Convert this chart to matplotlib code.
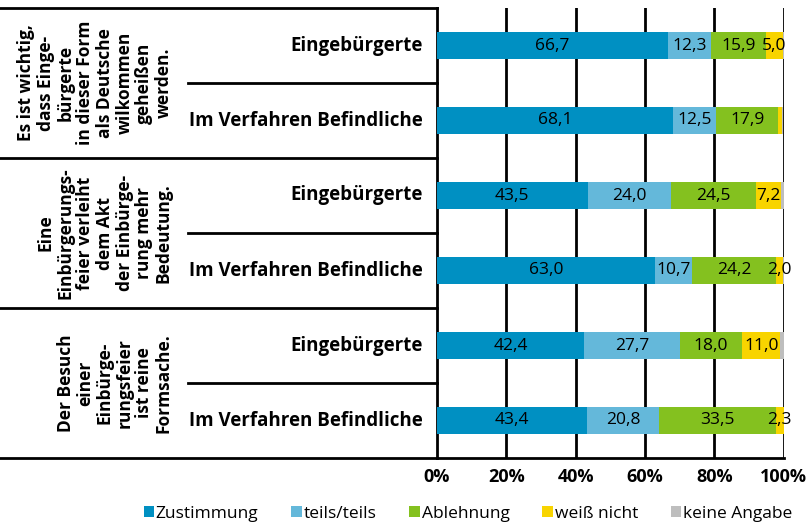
import matplotlib
matplotlib.use('Agg')
import matplotlib.pyplot as plt
from matplotlib.lines import Line2D
from matplotlib.patches import Patch
import numpy as np

plt.rcParams.update({
    'font.family': ['Open Sans', 'DejaVu Sans'],
})

groups = [
    "Es ist wichtig,\ndass Einge-\nbürgerte\nin dieser Form\nals Deutsche\nwilkommen\ngeheißen\nwerden.",
    "Eine\nEinbürgerungs-\nfeier verleiht\ndem Akt\nder Einbürge-\nrung mehr\nBedeutung.",
    "Der Besuch\neiner\nEinbürge-\nrungsfeier\nist reine\nFormsache.",
]
rows = ["Eingebürgerte", "Im Verfahren Befindliche"] * 3

categories = ["Zustimmung", "teils/teils", "Ablehnung", "weiß nicht", "keine Angabe"]
zustimmung = [66.7, 68.1, 43.5, 63.0, 42.4, 43.4]
teils = [12.3, 12.5, 24.0, 10.7, 27.7, 20.8]
ablehnung = [15.9, 17.9, 24.5, 24.2, 18.0, 33.5]
weiss_nicht = [5.0, 1.2, 7.2, 2.0, 11.0, 2.3]
keine_angabe = [0.1, 0.3, 0.8, 0.1, 0.9, 0.0]

colors = ["#0090C2", "#64B8DA", "#84C11F", "#F8D400", "#BEBEBE"]
ticks = [0, 20, 40, 60, 80, 100]
tick_labels = ["0%", "20%", "40%", "60%", "80%", "100%"]

series = [zustimmung, teils, ablehnung, weiss_nicht, keine_angabe]

fig = plt.figure(figsize=(8.10, 5.26), dpi=100)
ax = fig.add_axes([437 / 810, 1 - 458 / 526, (783.5 - 437) / 810, 450 / 526])

y = np.arange(len(rows))
left = np.zeros(len(rows))
for vals, col in zip(series, colors):
    vals = np.array(vals)
    ax.barh(y, vals, left=left, height=0.37, color=col, zorder=3)
    for yi, (l, v) in enumerate(zip(left, vals)):
        if v >= 2.0 and col != colors[-1]:
            ax.text(l + v / 2, yi, f"{v:.1f}".replace('.', ','), ha='center', va='center',
                    fontsize=12.5, color='black', zorder=4)
    left += vals

ax.set_xlim(0, 100)
ax.set_ylim(len(rows) - 0.5, -0.5)
ax.set_xticks(ticks)
ax.set_xticklabels(tick_labels, fontweight='bold', fontsize=13)
ax.set_yticks([])
ax.tick_params(axis='x', length=0, pad=7)
for s in ('top', 'right'):
    ax.spines[s].set_visible(False)
for s in ('left', 'bottom'):
    ax.spines[s].set_linewidth(2.0)
    ax.spines[s].set_color('black')
for t in ticks[1:]:
    ax.axvline(t, color='black', linewidth=2.0, zorder=1)

# table on the left of the bars, in figure pixels
W, H = 810, 526
def fy(py):
    return 1 - py / H

lw = 2.0
row_h = 450 / len(rows)
top = 8
for k in range(len(groups) + 1):
    py = top + k * 2 * row_h
    fig.add_artist(Line2D([0, 437 / W], [fy(py), fy(py)], color='black', lw=lw))
for k in range(len(groups)):
    py = top + (2 * k + 1) * row_h
    fig.add_artist(Line2D([188 / W, 437 / W], [fy(py), fy(py)], color='black', lw=lw))

for k, g in enumerate(groups):
    cy = top + (2 * k + 1) * row_h
    fig.text(173 / W, fy(cy), g, rotation=90, ha='right', va='center',
             multialignment='center', fontsize=12.5, fontweight='bold', linespacing=1.12)

for i, r in enumerate(rows):
    cy = top + (i + 0.5) * row_h
    fig.text(423 / W, fy(cy), r, ha='right', va='center', fontsize=13.5, fontweight='bold')

handles = [Patch(facecolor=c, edgecolor='none') for c in colors]
fig.legend(handles, categories, loc='center', bbox_to_anchor=(468 / W, fy(514)), ncol=5,
           frameon=False, fontsize=12.5, handlelength=0.6, handleheight=0.6,
           handletextpad=0.1, columnspacing=1.9, borderaxespad=0)

fig.savefig('out.png', dpi=100)
